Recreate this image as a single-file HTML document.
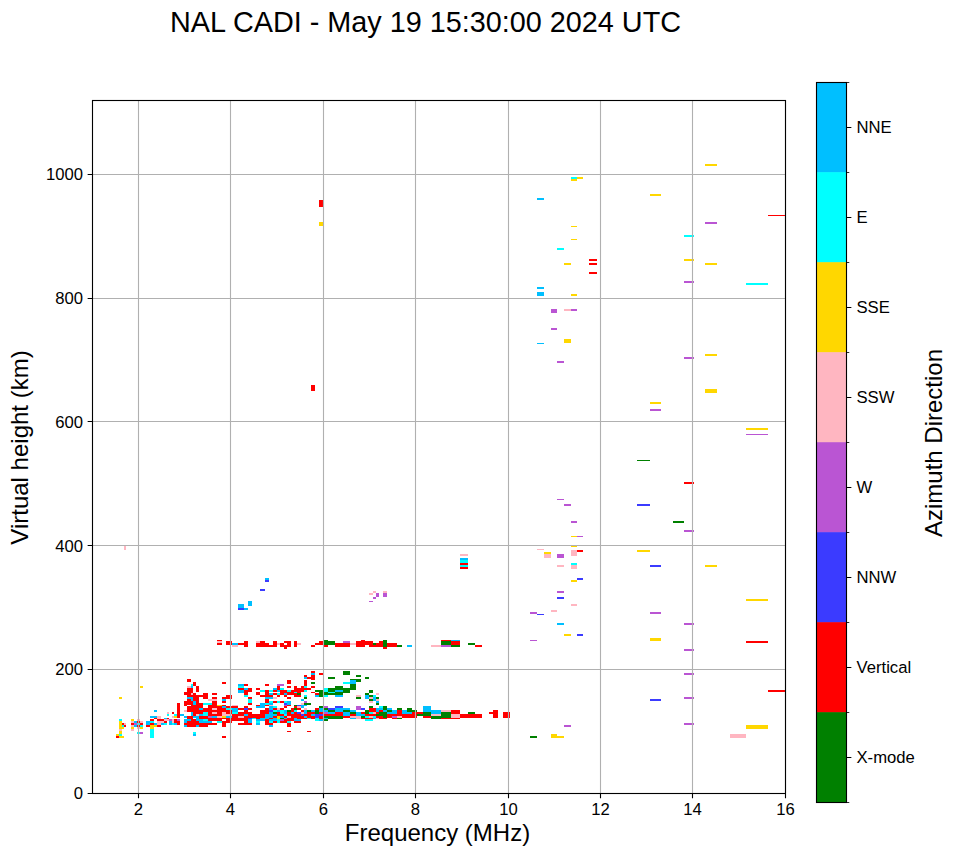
<!DOCTYPE html>
<html><head><meta charset="utf-8"><title>NAL CADI ionogram</title>
<style>html,body{margin:0;padding:0;background:#fff;font-family:"Liberation Sans",sans-serif}svg{display:block}</style>
</head><body>
<svg width="958" height="857" viewBox="0 0 958 857">
<rect width="958" height="857" fill="#fff"/>
<g id="data">
<path fill="#00ffff" shape-rendering="crispEdges" d="M571 177h6v2h-6zM557 248h7v2h-7zM684 235h10v2h-10zM746 283h22v2h-22zM571 563h6v2h-6zM460 560h8v3h-8zM460 565h8v2h-8zM167 714h2v2h-2zM119 719h3v2h-3zM122 725h2v2h-2zM119 734h3v2h-3zM137 723h3v2h-3zM140 725h3v2h-3zM137 732h3v2h-3zM150 721h4v2h-4zM164 723h3v2h-3zM150 729h4v9h-4zM191 684h2v2h-2zM203 703h9v2h-9zM203 712h5v4h-5zM174 714h3v2h-3zM203 719h5v2h-5zM217 721h5v2h-5zM165 723h2v2h-2zM172 723h2v2h-2zM193 732h3v2h-3zM238 686h6v2h-6zM280 688h4v2h-4zM260 690h5v2h-5zM269 690h4v2h-4zM277 693h3v2h-3zM244 695h4v2h-4zM248 699h4v2h-4zM248 701h4v2h-4zM269 701h4v2h-4zM277 701h3v2h-3zM265 703h4v2h-4zM273 706h4v2h-4zM226 708h6v2h-6zM273 710h4v2h-4zM280 710h4v2h-4zM232 712h6v2h-6zM280 712h4v2h-4zM252 718h4v1h-4zM277 719h3v2h-3zM256 721h4v2h-4zM269 721h4v2h-4zM277 721h3v2h-3zM304 686h3v2h-3zM280 688h4v2h-4zM324 688h4v2h-4zM287 690h4v2h-4zM304 690h3v2h-3zM324 690h4v2h-4zM294 692h3v1h-3zM328 692h7v1h-7zM304 695h3v2h-3zM324 695h4v2h-4zM284 701h3v2h-3zM280 710h4v2h-4zM294 710h3v2h-3zM280 712h4v2h-4zM284 714h3v2h-3zM307 718h4v1h-4zM315 718h4v1h-4zM315 719h4v2h-4zM287 721h4v2h-4zM343 682h7v2h-7zM373 695h3v2h-3zM379 706h4v2h-4zM369 712h4v2h-4zM365 716h4v2h-4zM373 716h3v2h-3zM365 719h8v2h-8z"/>
<path fill="#ffd700" shape-rendering="crispEdges" d="M577 177h6v2h-6zM571 179h6v2h-6zM650 194h11v2h-11zM571 226h6v1h-6zM571 239h6v1h-6zM564 263h7v2h-7zM705 164h12v2h-12zM684 259h10v2h-10zM705 263h12v2h-12zM571 294h6v2h-6zM564 339h7v4h-7zM705 354h12v2h-12zM705 389h12v4h-12zM650 402h11v2h-11zM746 428h22v2h-22zM571 536h6v1h-6zM571 545h6v2h-6zM544 552h7v2h-7zM637 550h13v2h-13zM571 580h6v2h-6zM564 634h7v2h-7zM705 565h12v2h-12zM746 599h22v2h-22zM650 638h11v3h-11zM551 734h6v4h-6zM557 736h7v2h-7zM746 725h22v4h-22zM319 222h5v4h-5zM140 686h3v2h-3zM119 697h3v2h-3zM119 721h3v8h-3zM122 727h2v2h-2zM119 731h3v3h-3zM116 734h3v2h-3zM119 736h5v2h-5zM131 719h3v2h-3zM131 727h3v2h-3zM140 727h3v2h-3zM150 725h7v2h-7zM150 727h4v2h-4zM217 705h5v1h-5zM174 716h3v2h-3zM222 716h3v2h-3zM222 716h4v2h-4zM277 716h3v2h-3zM277 718h3v1h-3z"/>
<path fill="#00bfff" shape-rendering="crispEdges" d="M537 198h7v2h-7zM537 287h7v2h-7zM537 292h7v4h-7zM537 343h7v1h-7zM557 623h7v2h-7zM265 578h4v2h-4zM248 601h4v5h-4zM238 604h6v4h-6zM244 608h4v2h-4zM232 643h6v2h-6zM407 645h5v2h-5zM451 640h9v1h-9zM460 558h8v2h-8zM154 710h3v2h-3zM134 721h3v2h-3zM134 725h3v2h-3zM150 716h7v2h-7zM164 718h3v1h-3zM146 721h4v4h-4zM154 723h3v2h-3zM161 723h3v2h-3zM169 721h3v4h-3zM191 686h2v2h-2zM187 697h6v2h-6zM191 699h2v2h-2zM222 699h3v2h-3zM193 701h3v4h-3zM222 706h3v2h-3zM199 708h4v2h-4zM191 712h2v4h-2zM180 714h4v2h-4zM199 714h4v2h-4zM184 716h3v2h-3zM193 716h6v2h-6zM212 716h5v2h-5zM196 718h3v1h-3zM184 719h7v2h-7zM196 719h7v2h-7zM169 721h3v4h-3zM184 721h3v2h-3zM199 721h13v2h-13zM174 723h3v2h-3zM184 725h3v2h-3zM196 725h3v2h-3zM193 734h3v2h-3zM238 684h6v2h-6zM244 688h4v2h-4zM273 688h4v2h-4zM238 690h6v2h-6zM277 690h3v2h-3zM238 692h6v1h-6zM269 693h4v2h-4zM265 697h8v2h-8zM222 699h4v2h-4zM260 703h5v2h-5zM269 703h4v2h-4zM260 705h5v1h-5zM222 706h4v2h-4zM256 706h9v2h-9zM269 706h4v2h-4zM232 708h6v2h-6zM269 708h4v2h-4zM232 710h6v2h-6zM277 710h3v2h-3zM269 712h4v2h-4zM244 714h4v2h-4zM265 714h12v2h-12zM226 716h6v2h-6zM265 716h8v2h-8zM280 716h4v2h-4zM260 718h9v1h-9zM273 718h4v1h-4zM248 719h4v2h-4zM256 719h9v2h-9zM269 719h8v2h-8zM248 721h4v2h-4zM256 723h4v2h-4zM269 725h4v2h-4zM311 673h4v2h-4zM304 677h3v2h-3zM335 690h8v2h-8zM284 693h3v2h-3zM315 695h4v2h-4zM335 695h8v2h-8zM301 699h3v2h-3zM287 701h4v2h-4zM287 703h4v2h-4zM301 705h6v1h-6zM301 706h3v2h-3zM319 708h5v2h-5zM335 708h8v2h-8zM284 710h3v2h-3zM304 710h3v2h-3zM311 710h4v2h-4zM319 710h9v2h-9zM335 710h8v2h-8zM284 712h3v2h-3zM291 712h3v2h-3zM304 712h3v2h-3zM328 712h7v2h-7zM311 714h4v2h-4zM280 716h4v2h-4zM304 716h3v2h-3zM284 718h3v1h-3zM294 718h3v1h-3zM324 718h4v1h-4zM294 719h7v2h-7zM319 719h5v2h-5zM350 680h6v2h-6zM350 682h6v2h-6zM365 695h4v2h-4zM365 697h4v2h-4zM373 697h3v2h-3zM373 699h3v2h-3zM376 701h3v2h-3zM343 708h7v2h-7zM376 708h7v2h-7zM387 708h5v2h-5zM350 710h6v2h-6zM376 710h3v2h-3zM383 710h4v2h-4zM392 710h5v2h-5zM343 712h7v2h-7zM356 712h5v2h-5zM387 712h10v2h-10zM343 714h7v2h-7zM356 714h9v2h-9zM350 718h6v1h-6zM373 718h3v1h-3zM423 706h8v2h-8zM423 708h8v2h-8zM402 710h5v2h-5zM423 710h18v2h-18zM402 712h10v2h-10zM431 712h10v2h-10z"/>
<path fill="#ff0000" shape-rendering="crispEdges" d="M589 259h8v2h-8zM589 263h8v2h-8zM589 272h8v2h-8zM768 215h18v1h-18zM684 482h10v2h-10zM577 550h6v2h-6zM746 641h22v2h-22zM768 690h18v2h-18zM319 200h5v7h-5zM311 385h4v6h-4zM226 641h6v4h-6zM238 643h6v2h-6zM244 641h4v6h-4zM256 643h4v4h-4zM260 641h5v6h-5zM265 643h4v4h-4zM269 645h4v2h-4zM273 641h4v6h-4zM280 643h4v4h-4zM284 641h3v2h-3zM284 645h3v4h-3zM287 641h4v6h-4zM294 641h3v6h-3zM311 645h4v2h-4zM315 643h4v2h-4zM319 641h5v4h-5zM324 645h4v2h-4zM335 643h15v4h-15zM356 641h5v6h-5zM361 640h4v7h-4zM365 641h4v4h-4zM369 641h4v6h-4zM373 645h3v2h-3zM376 643h3v4h-3zM379 641h4v6h-4zM383 647h4v2h-4zM387 643h10v4h-10zM441 640h10v1h-10zM451 641h9v4h-9zM475 645h7v2h-7zM460 563h8v2h-8zM460 567h8v2h-8zM217 640h5v1h-5zM217 643h5v2h-5zM122 723h2v2h-2zM124 725h2v2h-2zM116 736h3v2h-3zM137 721h3v2h-3zM131 723h3v2h-3zM140 723h3v2h-3zM137 725h3v2h-3zM154 718h3v1h-3zM150 719h4v2h-4zM157 719h7v2h-7zM167 718h2v1h-2zM164 721h3v2h-3zM150 723h4v2h-4zM146 725h4v2h-4zM157 725h4v2h-4zM187 679h4v3h-4zM193 682h3v2h-3zM222 682h3v2h-3zM193 684h3v2h-3zM196 686h3v6h-3zM187 688h6v4h-6zM184 692h9v1h-9zM184 693h7v2h-7zM193 693h3v2h-3zM203 693h5v6h-5zM212 693h5v2h-5zM187 695h16v2h-16zM193 697h6v2h-6zM212 697h5v2h-5zM222 697h3v2h-3zM187 699h4v2h-4zM193 699h6v2h-6zM184 701h9v2h-9zM196 701h3v2h-3zM212 701h5v4h-5zM222 701h3v2h-3zM177 703h3v15h-3zM184 703h9v2h-9zM196 703h7v2h-7zM184 705h3v1h-3zM191 705h12v1h-12zM208 705h9v1h-9zM187 706h16v2h-16zM208 706h14v2h-14zM187 708h12v2h-12zM203 708h9v2h-9zM217 708h8v2h-8zM187 710h38v2h-38zM172 712h2v2h-2zM193 712h10v2h-10zM208 712h4v2h-4zM217 712h5v2h-5zM193 714h3v2h-3zM208 714h14v2h-14zM187 716h6v3h-6zM199 716h9v3h-9zM167 718h2v1h-2zM208 718h14v1h-14zM174 719h3v2h-3zM191 719h5v2h-5zM208 719h14v2h-14zM165 721h2v2h-2zM174 721h6v2h-6zM187 721h12v2h-12zM222 721h3v6h-3zM177 723h3v2h-3zM184 723h33v2h-33zM187 725h9v2h-9zM199 725h9v2h-9zM222 736h3v2h-3zM222 682h4v2h-4zM244 684h4v2h-4zM265 684h4v2h-4zM277 686h3v2h-3zM238 688h6v2h-6zM248 688h4v2h-4zM256 688h4v2h-4zM277 688h3v2h-3zM244 690h8v2h-8zM265 690h4v2h-4zM273 690h4v2h-4zM280 690h4v2h-4zM244 692h4v1h-4zM256 692h4v1h-4zM265 692h4v1h-4zM244 693h4v2h-4zM256 693h4v2h-4zM265 693h4v2h-4zM273 693h4v2h-4zM280 693h4v2h-4zM226 695h6v2h-6zM260 695h13v2h-13zM277 695h3v2h-3zM222 697h10v2h-10zM248 697h4v2h-4zM265 699h4v2h-4zM222 701h4v2h-4zM265 701h4v2h-4zM273 701h4v2h-4zM280 701h4v2h-4zM248 703h4v2h-4zM222 705h4v1h-4zM256 705h4v1h-4zM265 705h4v1h-4zM226 706h12v2h-12zM244 706h4v2h-4zM222 708h4v2h-4zM238 708h6v2h-6zM248 708h4v2h-4zM265 708h4v2h-4zM273 708h4v2h-4zM280 708h4v2h-4zM222 710h10v2h-10zM244 710h4v2h-4zM260 710h9v2h-9zM226 712h6v2h-6zM238 712h14v2h-14zM260 712h9v2h-9zM277 712h3v2h-3zM232 714h12v2h-12zM248 714h17v2h-17zM277 714h7v2h-7zM232 716h6v2h-6zM244 716h21v2h-21zM273 716h4v2h-4zM222 718h26v1h-26zM256 718h4v1h-4zM269 718h4v1h-4zM226 719h22v2h-22zM265 719h4v2h-4zM222 721h10v2h-10zM244 721h4v2h-4zM265 721h4v2h-4zM273 721h4v2h-4zM280 721h4v2h-4zM222 723h4v2h-4zM238 723h14v2h-14zM265 723h8v2h-8zM222 725h4v2h-4zM222 736h4v2h-4zM311 671h4v2h-4zM319 673h5v2h-5zM304 675h3v2h-3zM311 675h4v2h-4zM307 677h8v2h-8zM311 679h4v1h-4zM287 680h4v2h-4zM304 680h3v2h-3zM287 682h4v2h-4zM304 682h3v2h-3zM304 684h3v2h-3zM287 686h4v2h-4zM294 686h3v2h-3zM301 686h3v2h-3zM311 686h4v2h-4zM294 688h17v2h-17zM280 690h7v2h-7zM291 690h13v2h-13zM280 692h14v1h-14zM297 692h4v1h-4zM311 692h4v1h-4zM280 693h4v2h-4zM287 693h10v2h-10zM315 693h4v2h-4zM284 695h3v2h-3zM294 695h7v2h-7zM287 697h4v2h-4zM280 701h4v2h-4zM287 705h4v1h-4zM284 706h3v2h-3zM294 706h3v2h-3zM280 708h4v2h-4zM291 708h3v2h-3zM297 708h4v2h-4zM315 708h4v2h-4zM291 710h3v2h-3zM301 710h3v2h-3zM287 712h4v2h-4zM294 712h3v2h-3zM307 712h8v2h-8zM319 712h5v2h-5zM335 712h8v2h-8zM280 714h4v2h-4zM287 714h14v2h-14zM304 714h7v2h-7zM324 714h19v2h-19zM284 716h3v2h-3zM291 716h13v2h-13zM307 716h8v2h-8zM319 716h5v2h-5zM287 718h7v1h-7zM297 718h10v1h-10zM311 718h4v1h-4zM319 718h5v1h-5zM284 719h10v2h-10zM280 721h7v2h-7zM294 721h7v2h-7zM287 723h4v4h-4zM287 731h4v1h-4zM307 731h4v1h-4zM369 708h7v2h-7zM369 710h7v2h-7zM379 710h4v2h-4zM361 712h4v2h-4zM376 712h3v2h-3zM350 714h6v2h-6zM365 714h11v2h-11zM387 714h10v2h-10zM343 716h7v2h-7zM376 716h7v2h-7zM387 716h5v2h-5zM361 718h12v1h-12zM379 718h8v1h-8zM392 718h5v1h-5zM397 710h5v2h-5zM451 710h9v2h-9zM397 712h5v2h-5zM412 712h11v2h-11zM451 712h9v2h-9zM397 714h20v2h-20zM402 716h15v2h-15zM423 716h8v2h-8zM441 718h19v1h-19zM460 714h22v4h-22zM489 712h4v2h-4zM493 710h5v8h-5zM503 712h7v6h-7z"/>
<path fill="#ba55d3" shape-rendering="crispEdges" d="M705 222h12v2h-12zM684 281h10v2h-10zM551 309h6v4h-6zM571 309h6v2h-6zM551 328h6v2h-6zM557 361h7v2h-7zM684 357h10v2h-10zM650 409h11v2h-11zM557 499h7v1h-7zM564 504h7v2h-7zM746 434h22v1h-22zM684 530h10v2h-10zM571 521h6v2h-6zM577 536h6v1h-6zM557 554h7v4h-7zM557 591h7v2h-7zM530 612h7v2h-7zM650 612h11v2h-11zM684 623h10v2h-10zM684 649h10v2h-10zM530 640h7v1h-7zM564 725h7v2h-7zM684 673h10v2h-10zM684 697h10v2h-10zM684 723h10v2h-10zM343 641h7v2h-7zM441 645h10v2h-10zM376 593h3v4h-3zM373 597h3v2h-3zM369 601h4v1h-4zM383 593h4v4h-4zM134 723h3v2h-3zM140 732h3v2h-3zM169 719h3v2h-3zM208 716h4v2h-4zM169 719h3v2h-3zM177 719h3v2h-3zM277 684h7v2h-7zM280 719h4v2h-4zM280 684h4v2h-4zM304 701h3v2h-3zM284 705h3v1h-3zM324 706h4v2h-4zM324 712h4v2h-4zM280 719h4v2h-4zM356 706h5v2h-5zM356 708h5v2h-5zM392 716h5v2h-5z"/>
<path fill="#ffb6c1" shape-rendering="crispEdges" d="M564 309h7v2h-7zM537 549h7v1h-7zM544 554h7v4h-7zM571 550h6v6h-6zM571 565h6v4h-6zM557 565h7v2h-7zM571 604h6v2h-6zM551 610h6v2h-6zM730 734h16v4h-16zM124 545h2v5h-2zM232 645h6v2h-6zM256 641h4v2h-4zM277 643h3v2h-3zM297 643h4v2h-4zM350 643h6v2h-6zM431 645h10v2h-10zM373 591h3v2h-3zM369 593h4v2h-4zM383 591h4v2h-4zM460 554h8v2h-8zM217 641h5v2h-5zM167 712h2v2h-2zM124 723h2v2h-2zM119 729h3v2h-3zM137 719h3v2h-3zM131 721h3v2h-3zM140 721h3v2h-3zM131 725h3v2h-3zM137 727h3v2h-3zM131 729h3v2h-3zM157 716h4v3h-4zM164 719h5v2h-5zM157 721h7v2h-7zM157 723h4v2h-4zM187 686h4v2h-4zM191 693h2v2h-2zM208 699h9v2h-9zM212 708h5v2h-5zM184 710h3v2h-3zM167 712h2v2h-2zM212 712h5v2h-5zM222 712h3v4h-3zM196 714h3v2h-3zM172 716h2v2h-2zM217 716h5v2h-5zM165 719h4v2h-4zM172 719h2v4h-2zM273 697h4v2h-4zM232 705h6v1h-6zM269 705h4v1h-4zM277 708h3v2h-3zM222 712h4v2h-4zM222 714h10v2h-10zM238 716h6v2h-6zM301 703h3v2h-3zM297 706h4v2h-4zM304 708h3v2h-3zM301 712h3v2h-3zM287 716h4v2h-4zM376 693h3v2h-3zM356 695h5v2h-5zM369 697h4v2h-4zM376 699h3v2h-3zM369 701h4v2h-4zM373 712h3v2h-3zM350 716h11v2h-11zM369 716h4v2h-4zM356 718h5v1h-5zM376 718h3v1h-3zM441 710h10v2h-10zM431 714h10v2h-10zM451 714h9v2h-9zM397 716h5v2h-5zM451 716h9v2h-9z"/>
<path fill="#008000" shape-rendering="crispEdges" d="M637 460h13v1h-13zM673 521h11v2h-11zM530 736h7v2h-7zM324 640h4v5h-4zM328 641h7v4h-7zM373 643h3v2h-3zM383 640h4v7h-4zM397 645h5v2h-5zM441 641h10v4h-10zM451 645h9v2h-9zM468 643h7v2h-7zM273 712h4v2h-4zM280 718h4v1h-4zM328 677h7v2h-7zM311 682h4v2h-4zM335 686h8v2h-8zM328 688h15v2h-15zM315 690h9v2h-9zM328 690h7v2h-7zM319 692h9v1h-9zM335 692h8v1h-8zM297 693h4v2h-4zM319 693h24v2h-24zM319 695h5v2h-5zM304 697h3v2h-3zM304 703h7v2h-7zM294 705h3v1h-3zM319 706h5v2h-5zM294 708h3v2h-3zM324 708h4v2h-4zM287 710h4v2h-4zM307 710h4v2h-4zM315 710h4v2h-4zM328 710h7v2h-7zM315 712h4v2h-4zM324 716h19v2h-19zM280 718h4v1h-4zM328 718h15v1h-15zM324 719h4v2h-4zM343 671h7v4h-7zM356 675h5v2h-5zM365 677h4v2h-4zM350 679h11v1h-11zM356 680h5v2h-5zM350 684h6v2h-6zM350 686h6v2h-6zM343 688h13v2h-13zM343 690h7v2h-7zM369 690h4v2h-4zM343 692h7v1h-7zM369 692h4v1h-4zM365 693h4v2h-4zM369 695h4v2h-4zM356 697h5v2h-5zM376 697h3v2h-3zM369 699h4v2h-4zM376 703h3v2h-3zM369 706h4v2h-4zM383 706h4v2h-4zM383 708h4v2h-4zM343 710h7v2h-7zM365 710h4v2h-4zM387 710h5v2h-5zM350 712h6v2h-6zM365 712h4v2h-4zM379 712h8v2h-8zM376 714h11v2h-11zM361 716h4v2h-4zM383 716h4v2h-4zM397 708h5v2h-5zM407 708h5v2h-5zM407 710h10v2h-10zM423 712h8v2h-8zM441 712h10v2h-10zM417 714h14v2h-14zM441 714h10v2h-10zM431 716h20v2h-20zM397 718h5v1h-5zM431 718h10v1h-10zM468 712h7v2h-7z"/>
<path fill="#3b3bff" shape-rendering="crispEdges" d="M637 504h13v2h-13zM650 565h11v2h-11zM577 578h6v2h-6zM557 597h7v2h-7zM537 614h7v1h-7zM577 634h6v2h-6zM650 699h11v2h-11zM265 580h4v2h-4zM260 589h5v2h-5zM238 608h6v2h-6zM244 708h4v2h-4zM269 710h4v2h-4zM248 718h4v1h-4zM284 703h3v2h-3zM297 705h4v1h-4zM335 706h8v2h-8zM328 708h7v2h-7zM297 712h4v2h-4zM301 714h3v2h-3zM315 714h9v2h-9zM315 716h4v2h-4zM361 708h4v2h-4z"/>
</g>
<path d="M138.5 100.1V793.1M230.5 100.1V793.1M323.5 100.1V793.1M415.5 100.1V793.1M508.5 100.1V793.1M600.5 100.1V793.1M692.5 100.1V793.1M785.5 100.1V793.1M92.3 793.5H785.3M92.3 669.5H785.3M92.3 545.5H785.3M92.3 421.5H785.3M92.3 298.5H785.3M92.3 174.5H785.3" stroke="#b0b0b0" stroke-width="1.11" fill="none"/>
<path d="M138.5 793.5v4.86M230.5 793.5v4.86M323.5 793.5v4.86M415.5 793.5v4.86M508.5 793.5v4.86M600.5 793.5v4.86M692.5 793.5v4.86M785.5 793.5v4.86M92.5 793.5h-4.86M92.5 669.5h-4.86M92.5 545.5h-4.86M92.5 421.5h-4.86M92.5 298.5h-4.86M92.5 174.5h-4.86" stroke="#000" stroke-width="1.11" fill="none"/>
<rect x="92.5" y="100.5" width="693.0" height="693.0" fill="none" stroke="#000" stroke-width="1.11"/>
<g fill="#000" font-family="'Liberation Sans', sans-serif">
<text x="138.5" y="815.1" font-size="16.67" text-anchor="middle">2</text>
<text x="230.5" y="815.1" font-size="16.67" text-anchor="middle">4</text>
<text x="323.5" y="815.1" font-size="16.67" text-anchor="middle">6</text>
<text x="415.5" y="815.1" font-size="16.67" text-anchor="middle">8</text>
<text x="508.5" y="815.1" font-size="16.67" text-anchor="middle">10</text>
<text x="600.5" y="815.1" font-size="16.67" text-anchor="middle">12</text>
<text x="692.5" y="815.1" font-size="16.67" text-anchor="middle">14</text>
<text x="785.5" y="815.1" font-size="16.67" text-anchor="middle">16</text>
<text x="83" y="799.17" font-size="16.67" text-anchor="end">0</text>
<text x="83" y="675.17" font-size="16.67" text-anchor="end">200</text>
<text x="83" y="552.17" font-size="16.67" text-anchor="end">400</text>
<text x="83" y="428.17" font-size="16.67" text-anchor="end">600</text>
<text x="83" y="304.17" font-size="16.67" text-anchor="end">800</text>
<text x="83" y="180.17" font-size="16.67" text-anchor="end">1000</text>
<text x="425.5" y="31.9" font-size="28.8" text-anchor="middle">NAL CADI - May 19 15:30:00 2024 UTC</text>
<text x="437.5" y="841.3" font-size="24" text-anchor="middle">Frequency (MHz)</text>
<text transform="translate(27.7 447.5) rotate(-90)" font-size="24" text-anchor="middle">Virtual height (km)</text>
<text transform="translate(942.2 443) rotate(-90)" font-size="24" text-anchor="middle">Azimuth Direction</text>
</g>
<rect x="816.5" y="82.20" width="30.0" height="90.60" fill="#00bfff"/>
<rect x="816.5" y="172.20" width="30.0" height="90.60" fill="#00ffff"/>
<rect x="816.5" y="262.20" width="30.0" height="90.60" fill="#ffd700"/>
<rect x="816.5" y="352.20" width="30.0" height="90.60" fill="#ffb6c1"/>
<rect x="816.5" y="442.20" width="30.0" height="90.60" fill="#ba55d3"/>
<rect x="816.5" y="532.20" width="30.0" height="90.60" fill="#3b3bff"/>
<rect x="816.5" y="622.20" width="30.0" height="90.60" fill="#ff0000"/>
<rect x="816.5" y="712.20" width="30.0" height="90.60" fill="#008000"/>
<rect x="816.5" y="82.5" width="30.0" height="720.0" fill="none" stroke="#000" stroke-width="1.11"/>
<path d="M846.5 127.5h4.86M846.5 217.5h4.86M846.5 307.5h4.86M846.5 397.5h4.86M846.5 487.5h4.86M846.5 577.5h4.86M846.5 667.5h4.86M846.5 757.5h4.86" stroke="#000" stroke-width="1.11" fill="none"/>
<path d="M846.5 82.5h2.78M846.5 172.5h2.78M846.5 262.5h2.78M846.5 352.5h2.78M846.5 442.5h2.78M846.5 532.5h2.78M846.5 622.5h2.78M846.5 712.5h2.78M846.5 802.5h2.78" stroke="#000" stroke-width="0.83" fill="none"/>
<g fill="#000" font-family="'Liberation Sans', sans-serif" font-size="16.67">
<text x="856.5" y="133.27">NNE</text>
<text x="856.5" y="223.27">E</text>
<text x="856.5" y="313.27">SSE</text>
<text x="856.5" y="403.27">SSW</text>
<text x="856.5" y="493.27">W</text>
<text x="856.5" y="583.28">NNW</text>
<text x="856.5" y="673.28">Vertical</text>
<text x="856.5" y="763.28">X-mode</text>
</g>
</svg>
</body></html>
